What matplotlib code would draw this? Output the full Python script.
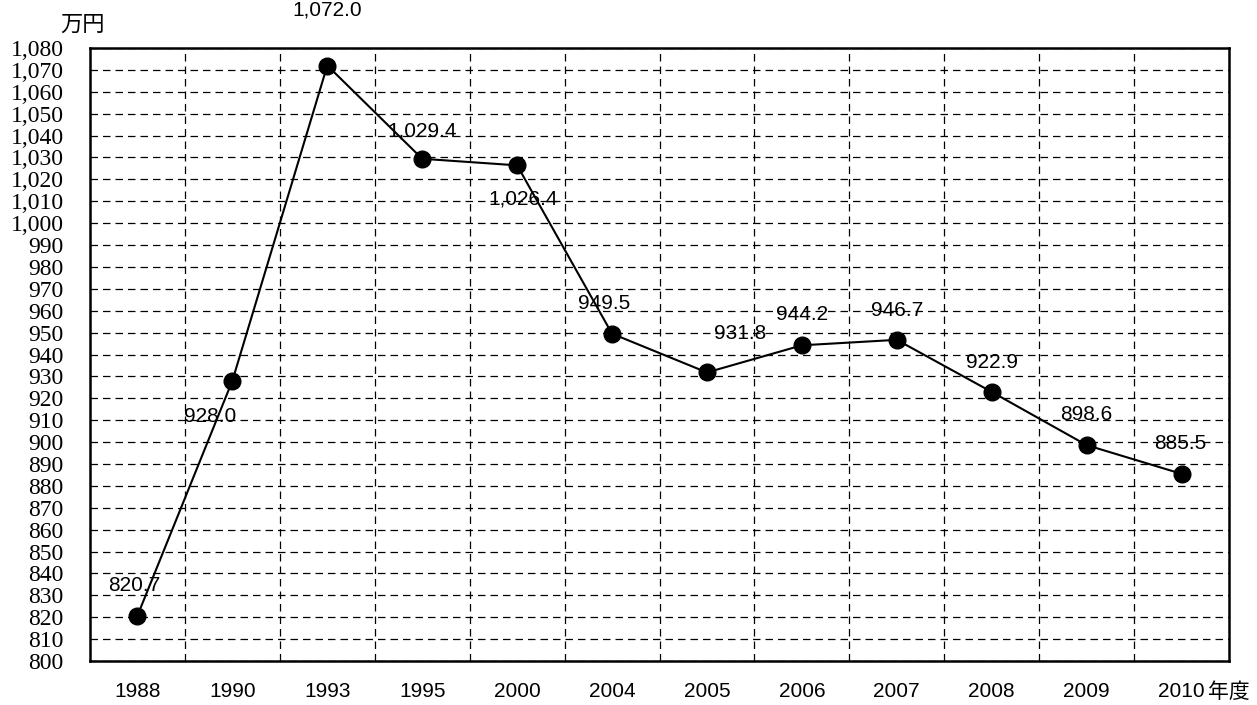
import numpy as np
import matplotlib.pyplot as plt
from matplotlib.ticker import FixedLocator

plt.rcParams['font.family'] = ['Liberation Sans', 'Noto Sans CJK JP', 'DejaVu Sans']

years = ['1988', '1990', '1993', '1995', '2000', '2004', '2005', '2006',
         '2007', '2008', '2009', '2010']
values = [820.7, 928.0, 1072.0, 1029.4, 1026.4, 949.5, 931.8, 944.2,
          946.7, 922.9, 898.6, 885.5]
yticks = list(range(800, 1081, 10))

# label offsets in points (dx, dy)
offsets = [(-2, 22), (-16, -26), (0, 40), (0, 20), (4, -24), (-6, 22),
           (24, 28), (0, 22), (0, 21), (0, 21), (0, 22), (-1, 22)]

fig = plt.figure(figsize=(12.57, 7.05), dpi=100)
ax = fig.add_axes([90/1257, 1 - 661/705, (1229-90)/1257, (661-48)/705])

x = np.arange(len(years))
ax.plot(x, values, color='black', lw=1.5, marker='o', ms=12,
        markerfacecolor='black', markeredgecolor='black', zorder=3)

for xi, v, (dx, dy) in zip(x, values, offsets):
    ax.annotate(f'{v:,.1f}', (xi, v), xytext=(dx, dy), textcoords='offset points',
                ha='center', va='center', fontsize=15, zorder=4)

ax.set_xlim(-0.5, len(years) - 0.5)
ax.set_ylim(800, 1080)
ax.set_xticks(x)
ax.set_xticklabels(years, fontsize=15)
ax.xaxis.set_minor_locator(FixedLocator(np.arange(0.5, len(years) - 1, 1)))
ax.set_yticks(yticks)
ax.set_yticklabels([f'{t:,}' for t in yticks], fontsize=17,
                   family=['Liberation Serif', 'DejaVu Serif'])
ax.tick_params(axis='both', which='both', length=0)
ax.tick_params(axis='y', pad=19)
ax.tick_params(axis='x', pad=15)

ax.grid(True, axis='y', which='major', color='black', ls=(0, (6, 4)), lw=0.9)
ax.grid(True, axis='x', which='minor', color='black', ls=(0, (6, 4)), lw=0.9)

for s in ax.spines.values():
    s.set_linewidth(1.8)
    s.set_color('black')

fig.text(60/1257, 1 - 24/705, '万円', fontsize=16, va='center', ha='left',
         family=['Noto Sans CJK JP'])
fig.text(1208/1257, 1 - 692/705, '年度', fontsize=15, va='center', ha='left',
         family=['Noto Sans CJK JP'], bbox=dict(facecolor='white', edgecolor='none', pad=1))

fig.savefig('out.png', dpi=100)
